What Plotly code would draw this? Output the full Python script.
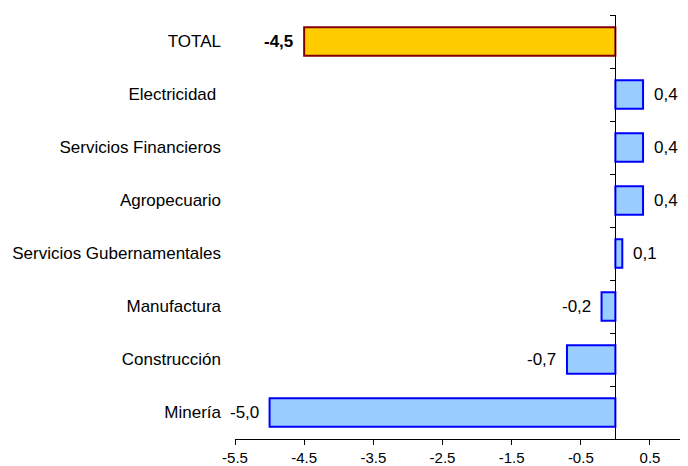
"""Variación por sector: barras horizontales."""

import plotly.graph_objects as go

# datos (de abajo hacia arriba)
sectores = [
    "Minería",
    "Construcción",
    "Manufactura",
    "Servicios Gubernamentales",
    "Agropecuario",
    "Servicios Financieros",
    "Electricidad\u00a0",
    "TOTAL",
]
valores = [-5.0, -0.7, -0.2, 0.1, 0.4, 0.4, 0.4, -4.5]
ticks_x = [-5.5, -4.5, -3.5, -2.5, -1.5, -0.5, 0.5]

FONT = "Liberation Sans, Arial, sans-serif"
X_MIN, X_MAX = -5.5, 1.05

fill = ["#FFCC00" if s == "TOTAL" else "#99CCFF" for s in sectores]
edge = ["#800000" if s == "TOTAL" else "#0000FF" for s in sectores]

fig = go.Figure(
    go.Bar(
        x=valores,
        y=sectores,
        orientation="h",
        width=0.54,
        marker=dict(color=fill, line=dict(color=edge, width=2)),
        hoverinfo="x+y",
    )
)
# traza vacía para que se dibuje el eje y2 (línea en x=0)
fig.add_trace(go.Scatter(x=[], y=[], yaxis="y2", showlegend=False, hoverinfo="skip"))

annotations = []
for s, v in zip(sectores, valores):
    txt = f"{v:.1f}".replace(".", ",")
    if s == "TOTAL":
        txt = f"<b>{txt}</b>"
    annotations.append(
        dict(
            x=v,
            y=s,
            text=txt,
            showarrow=False,
            xanchor="left" if v > 0 else "right",
            xshift=9 if v > 0 else -9,
            font=dict(family=FONT, size=17, color="black"),
        )
    )

# la página deja 8 px de margen en el body
fig.update_layout(
    width=680,
    height=458,
    margin=dict(l=227, r=0, t=7, b=23),
    paper_bgcolor="white",
    plot_bgcolor="white",
    showlegend=False,
    annotations=annotations,
    xaxis=dict(
        range=[X_MIN, X_MAX],
        tickvals=ticks_x,
        ticktext=[f"{t:.1f}" for t in ticks_x],
        ticks="outside",
        ticklen=5,
        tickcolor="black",
        showline=True,
        linecolor="black",
        linewidth=1,
        showgrid=False,
        zeroline=False,
        tickfont=dict(family=FONT, size=15, color="black"),
    ),
    yaxis=dict(
        type="category",
        categoryorder="array",
        categoryarray=sectores,
        range=[-0.5, len(sectores) - 0.5],
        showgrid=False,
        showline=False,
        zeroline=False,
        ticks="",
        ticklabelstandoff=13,
        tickfont=dict(family=FONT, size=17, color="black"),
    ),
    yaxis2=dict(
        overlaying="y",
        anchor="free",
        position=(0 - X_MIN) / (X_MAX - X_MIN),
        side="left",
        range=[-0.5, len(sectores) - 0.5],
        tickvals=[i - 0.5 for i in range(len(sectores) + 1)],
        ticks="outside",
        ticklen=5,
        tickcolor="black",
        showticklabels=False,
        showline=True,
        linecolor="black",
        linewidth=1,
        showgrid=False,
        zeroline=False,
    ),
)

fig.write_html("out.html")
